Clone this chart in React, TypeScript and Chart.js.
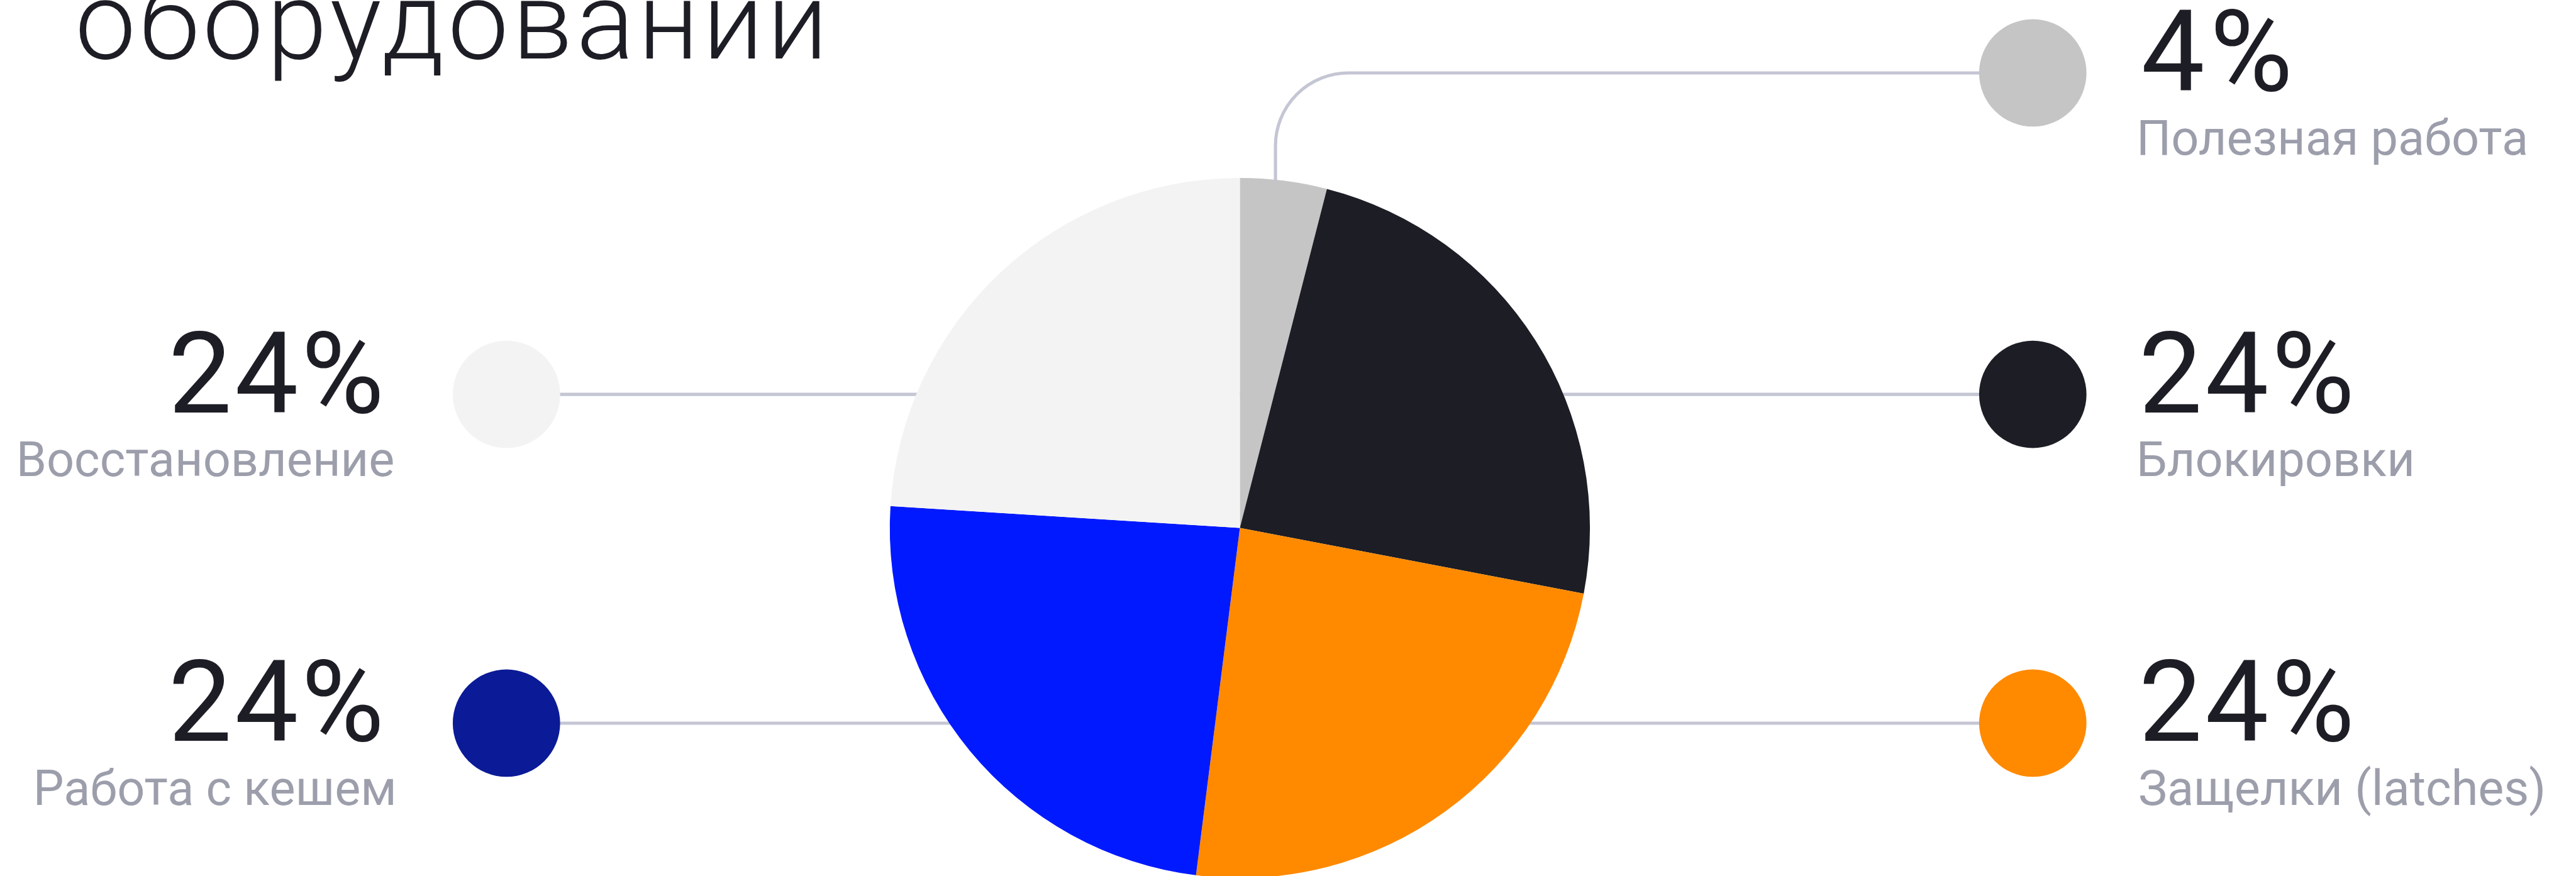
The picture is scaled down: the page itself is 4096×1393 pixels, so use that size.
import React, { useEffect, useRef } from "react";
import { Chart, registerables } from "chart.js";

Chart.register(...registerables);

// ---- data ----
const categories = [
  "Полезная работа",
  "Блокировки",
  "Защелки (latches)",
  "Работа с кешем",
  "Восстановление",
];
const values = [4, 24, 24, 24, 24];
const percentLabels = ["4%", "24%", "24%", "24%", "24%"];
const sliceColors = ["#C5C5C5", "#1D1D25", "#FF8A00", "#0019FF", "#F3F3F3"];
const markerColors = ["#C5C5C5", "#1D1D25", "#FF8A00", "#0B1A96", "#F3F3F3"];
const titleText = "оборудовании";

// ---- layout (reference pixels, scaled by S) ----
const W = 4096;
const H = 1393;
const S = W / 4415;

const PIE_CX = 2125;
const PIE_CY = 905;
const PIE_R = 600;

const MARKER_R = 92;
const LEFT_MARKER_X = 868;
const RIGHT_MARKER_X = 3484;
const LEFT_VALUE_INK_RIGHT = 650;
const LEFT_LABEL_INK_RIGHT = 674;
const RIGHT_VALUE_INK_LEFT = 3674;
const RIGHT_LABEL_INK_LEFT = 3668;
const ELBOW_X = 2186;
const ELBOW_R = 125;

const VALUE_FONT = 194;
const LABEL_FONT = 83.5;
const TITLE_FONT = 186;
const VALUE_INK_WIDTH_24 = 353; // ink width of "24%" in reference px
const VALUE_INK_WIDTH_4 = 247; // ink width of "4%"
const TITLE_INK_LEFT = 136;
const TITLE_INK_WIDTH = 1269;

const DARK = "#1D1D25";
const GREY_TEXT = "#9C9EAB";
const LINE_COLOR = "#C5C6D4";

type Callout = {
  side: "left" | "right";
  markerY: number;
  valueBase: number;
  labelBase: number;
  elbow?: boolean;
};

// one per category, same order
const callouts: Callout[] = [
  { side: "right", markerY: 125, valueBase: 155, labelBase: 265, elbow: true },
  { side: "right", markerY: 676, valueBase: 707, labelBase: 816 },
  { side: "right", markerY: 1239.5, valueBase: 1269.5, labelBase: 1379.5 },
  { side: "left", markerY: 1239.5, valueBase: 1269.5, labelBase: 1379.5 },
  { side: "left", markerY: 676, valueBase: 707, labelBase: 816 },
];

function drawInk(
  ctx: CanvasRenderingContext2D,
  text: string,
  font: string,
  color: string,
  inkX: number,
  baseline: number,
  anchor: "left" | "right",
  targetInkWidth?: number
) {
  const c: any = ctx;
  ctx.font = font;
  ctx.fillStyle = color;
  ctx.textAlign = "left";
  ctx.textBaseline = "alphabetic";
  c.letterSpacing = "0px";
  let m = ctx.measureText(text);
  if (targetInkWidth && text.length > 1) {
    const w0 = m.actualBoundingBoxLeft + m.actualBoundingBoxRight;
    const sp = (targetInkWidth - w0) / (text.length - 1);
    c.letterSpacing = `${sp}px`;
    m = ctx.measureText(text);
  }
  const x = anchor === "left" ? inkX + m.actualBoundingBoxLeft : inkX - m.actualBoundingBoxRight;
  ctx.fillText(text, x, baseline);
  c.letterSpacing = "0px";
}

const calloutPlugin = {
  id: "callouts",
  beforeDatasetsDraw(chart: any) {
    const ctx: CanvasRenderingContext2D = chart.ctx;
    const arc = chart.getDatasetMeta(0).data[0];
    const cx = arc.x;
    const cy = arc.y;
    ctx.save();
    ctx.strokeStyle = LINE_COLOR;
    ctx.lineWidth = 5.5 * S;
    ctx.lineCap = "butt";
    ctx.lineJoin = "round";
    callouts.forEach((c) => {
      const my = c.markerY * S;
      const mx = (c.side === "left" ? LEFT_MARKER_X : RIGHT_MARKER_X) * S;
      ctx.beginPath();
      if (c.elbow) {
        const vx = ELBOW_X * S;
        const r = ELBOW_R * S;
        ctx.moveTo(mx, my);
        ctx.lineTo(vx + r, my);
        ctx.arcTo(vx, my, vx, my + r, r);
        ctx.lineTo(vx, cy);
      } else {
        ctx.moveTo(mx, my);
        ctx.lineTo(cx, my);
      }
      ctx.stroke();
    });
    ctx.restore();
  },
  afterDatasetsDraw(chart: any) {
    const ctx: CanvasRenderingContext2D = chart.ctx;
    ctx.save();
    callouts.forEach((c, i) => {
      const my = c.markerY * S;
      const mx = (c.side === "left" ? LEFT_MARKER_X : RIGHT_MARKER_X) * S;
      ctx.beginPath();
      ctx.arc(mx, my, MARKER_R * S, 0, Math.PI * 2);
      ctx.fillStyle = markerColors[i];
      ctx.fill();

      const vFont = `400 ${VALUE_FONT * S}px Roboto`;
      const lFont = `400 ${LABEL_FONT * S}px Roboto`;
      const vWidth = (percentLabels[i].length > 2 ? VALUE_INK_WIDTH_24 : VALUE_INK_WIDTH_4) * S;
      if (c.side === "left") {
        drawInk(ctx, percentLabels[i], vFont, DARK, LEFT_VALUE_INK_RIGHT * S, c.valueBase * S, "right", vWidth);
        drawInk(ctx, categories[i], lFont, GREY_TEXT, LEFT_LABEL_INK_RIGHT * S, c.labelBase * S, "right");
      } else {
        drawInk(ctx, percentLabels[i], vFont, DARK, RIGHT_VALUE_INK_LEFT * S, c.valueBase * S, "left", vWidth);
        drawInk(ctx, categories[i], lFont, GREY_TEXT, RIGHT_LABEL_INK_LEFT * S, c.labelBase * S, "left");
      }
    });
    drawInk(
      ctx,
      titleText,
      `300 ${TITLE_FONT * S}px Roboto`,
      DARK,
      TITLE_INK_LEFT * S,
      100 * S,
      "left",
      TITLE_INK_WIDTH * S
    );
    ctx.restore();
  },
};

export default function App() {
  const canvasRef = useRef<HTMLCanvasElement | null>(null);

  useEffect(() => {
    document.body.style.margin = "0";
    const canvas = canvasRef.current;
    if (!canvas) return;
    const cx = PIE_CX * S;
    const cy = PIE_CY * S;
    const chart = new Chart(canvas, {
      type: "pie",
      data: {
        labels: categories,
        datasets: [
          {
            data: values,
            backgroundColor: sliceColors,
            borderWidth: 0,
            hoverOffset: 0,
            radius: PIE_R * S,
          } as any,
        ],
      },
      options: {
        responsive: false,
        animation: false,
        devicePixelRatio: 1,
        events: [],
        layout: {
          padding: { left: 0, right: W - 2 * cx, top: 2 * cy - H, bottom: 0 },
        },
        plugins: {
          legend: { display: false },
          tooltip: { enabled: false },
        },
      },
      plugins: [calloutPlugin],
    });
    return () => chart.destroy();
  }, []);

  return (
    <div style={{ position: "absolute", left: 0, top: 0, width: W, height: H, overflow: "hidden", background: "#FFFFFF" }}>
      <canvas ref={canvasRef} width={W} height={H} style={{ width: W, height: H, display: "block" }} />
    </div>
  );
}
